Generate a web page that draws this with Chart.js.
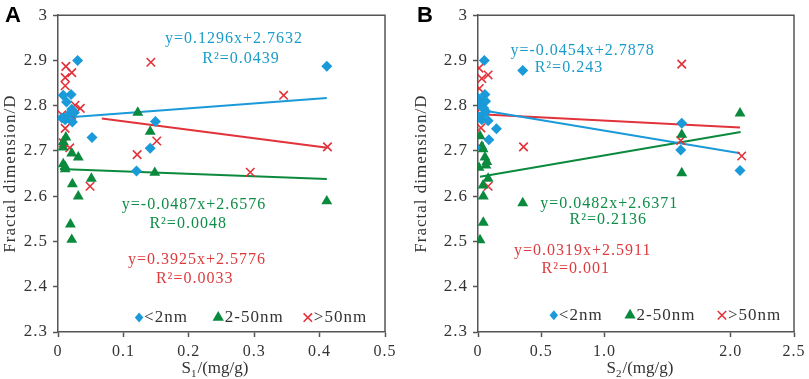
<!DOCTYPE html>
<html>
<head>
<meta charset="utf-8">
<script src="https://cdn.jsdelivr.net/npm/chart.js@4/dist/chart.umd.min.js"></script>
<style>
  body { margin: 0; background: #fff; }
  .panel { position: absolute; top: 0; }
</style>
</head>
<body>
<div class="panel" style="left:0"><canvas id="chartA" width="400" height="379"></canvas></div>
<div class="panel" style="left:400px"><canvas id="chartB" width="409" height="379"></canvas></div>
<script>
// panel A : S1
const blueAx = [0.030, 0.008, 0.020, 0.013, 0.006, 0.011, 0.022, 0.021, 0.016, 0.025, 0.052, 0.120, 0.141, 0.149, 0.411];
const blueAy = [2.900, 2.823, 2.825, 2.808, 2.773, 2.769, 2.764, 2.792, 2.780, 2.785, 2.730, 2.656, 2.706, 2.765, 2.887];
const greenAx = [0.122, 0.141, 0.148, 0.012, 0.008, 0.008, 0.021, 0.031, 0.008, 0.011, 0.011, 0.051, 0.022, 0.031, 0.019, 0.021, 0.411];
const greenAy = [2.785, 2.743, 2.652, 2.730, 2.720, 2.708, 2.695, 2.686, 2.671, 2.665, 2.660, 2.639, 2.627, 2.600, 2.538, 2.504, 2.589];
const redAx = [0.012, 0.021, 0.011, 0.011, 0.142, 0.026, 0.034, 0.021, 0.006, 0.011, 0.008, 0.018, 0.049, 0.121, 0.151, 0.345, 0.294, 0.412];
const redAy = [2.887, 2.873, 2.862, 2.844, 2.896, 2.801, 2.794, 2.779, 2.780, 2.750, 2.718, 2.707, 2.622, 2.692, 2.722, 2.823, 2.653, 2.709];
const fitBlueA = [[0.003, 2.773], [0.411, 2.817]];
const fitRedA = [[0.067, 2.772], [0.412, 2.707]];
const fitGreenA = [[0.003, 2.660], [0.411, 2.638]];

// panel B : S2
const blueBx = [0.050, 0.003, 0.055, 0.020, 0.030, 0.040, 0.010, 0.045, 0.060, 0.063, 0.080, 0.146, 0.086, -0.020, 0.354, 1.612, 1.604, 2.073];
const blueBy = [2.900, 2.816, 2.825, 2.800, 2.769, 2.780, 2.775, 2.795, 2.810, 2.787, 2.767, 2.749, 2.725, 2.708, 2.878, 2.761, 2.702, 2.657];
const greenBx = [0.016, 0.030, 0.040, 0.055, 0.070, 0.063, 0.008, 0.080, 0.040, 0.042, 0.042, 0.016, 0.354, 1.612, 1.612, 2.073];
const greenBy = [2.733, 2.710, 2.704, 2.686, 2.676, 2.668, 2.663, 2.639, 2.624, 2.600, 2.542, 2.503, 2.585, 2.736, 2.651, 2.783];
const redBx = [0.008, 0.080, 0.030, 0.010, 0.023, 0.030, 0.080, 0.010, 0.360, 1.612, 1.604, 2.086];
const redBy = [2.883, 2.868, 2.860, 2.838, 2.751, 2.797, 2.622, 2.710, 2.709, 2.892, 2.723, 2.689];
const fitBlueB = [[0.080, 2.788], [2.073, 2.695]];
const fitRedB = [[0.016, 2.781], [2.073, 2.752]];
const fitGreenB = [[0.016, 2.643], [2.078, 2.742]];

const yTicks = [2.3, 2.4, 2.5, 2.6, 2.7, 2.8, 2.9, 3];
const xTicksA = [0, 0.1, 0.2, 0.3, 0.4, 0.5];
const xTicksB = [0, 0.5, 1, 2, 2.5];
const seriesNames = ['<2nm', '2-50nm', '>50nm'];

const BLUE = '#1a9ad8', GREEN = '#0b8a3e', RED = '#e2323a';
const TXT_BLUE = '#1b9bc9', TXT_GREEN = '#0f8d48', TXT_RED = '#de3b3f';
const AXIS = '#555';
const SERIF = '"Liberation Serif", "Times New Roman", serif';

const pts = (xs, ys) => xs.map((x, i) => ({x: x, y: ys[i]}));
const line = p => p.map(q => ({x: q[0], y: q[1]}));

function markerPath(ctx, style, x, y, r) {
  ctx.beginPath();
  if (style === 'rectRot') {
    ctx.moveTo(x, y - r); ctx.lineTo(x + r * 0.85, y); ctx.lineTo(x, y + r); ctx.lineTo(x - r * 0.85, y); ctx.closePath();
    ctx.fill();
  } else if (style === 'triangle') {
    ctx.moveTo(x, y - r); ctx.lineTo(x + r * 0.87, y + r * 0.5); ctx.lineTo(x - r * 0.87, y + r * 0.5); ctx.closePath();
    ctx.fill();
  } else {
    const d = r * 0.7;
    ctx.moveTo(x - d, y - d); ctx.lineTo(x + d, y + d); ctx.moveTo(x + d, y - d); ctx.lineTo(x - d, y + d);
    ctx.stroke();
  }
}

const extras = {
  id: 'extras',
  beforeDraw(chart) { chart.ctx.letterSpacing = '1px'; },
  afterDraw(chart, args, opts) {
    const {ctx, chartArea: a} = chart;
    const sx = chart.scales.x, sy = chart.scales.y;
    ctx.save();
    ctx.letterSpacing = '0px';
    ctx.strokeStyle = AXIS; ctx.lineWidth = 1.5;
    ctx.beginPath(); ctx.moveTo(a.left, a.top); ctx.lineTo(a.right, a.top); ctx.lineTo(a.right, a.bottom); ctx.stroke();

    ctx.fillStyle = '#000';
    ctx.font = 'bold 22px "Liberation Sans", Arial, sans-serif';
    ctx.textAlign = 'left'; ctx.textBaseline = 'middle';
    ctx.fillText(opts.letter, opts.letterX, 16);

    // x axis title with a real subscript
    ctx.fillStyle = '#333';
    const big = '17px ' + SERIF, small = '11px ' + SERIF;
    ctx.font = big; const wS = ctx.measureText('S').width, wR = ctx.measureText(opts.xTitle[1]).width;
    ctx.font = small; const wSub = ctx.measureText(opts.xTitle[0]).width;
    let tx = opts.titleX - (wS + wSub + 1 + wR) / 2;
    ctx.textAlign = 'left';
    ctx.font = big; ctx.fillText('S', tx, opts.titleY);
    ctx.font = small; ctx.fillText(opts.xTitle[0], tx + wS, opts.titleY + 5);
    ctx.font = big; ctx.fillText(opts.xTitle[1], tx + wS + wSub + 1, opts.titleY);

    ctx.letterSpacing = '1px';
    ctx.font = '16px ' + SERIF;
    ctx.textAlign = 'center';
    opts.notes.forEach(n => {
      ctx.fillStyle = n.color;
      ctx.fillText(n.text, sx.getPixelForValue(n.x), sy.getPixelForValue(n.y));
    });

    ctx.textAlign = 'left';
    opts.legend.forEach((l, i) => {
      const ds = chart.data.datasets[i];
      const px = sx.getPixelForValue(l.x), py = sy.getPixelForValue(l.y);
      ctx.fillStyle = ds.backgroundColor; ctx.strokeStyle = ds.borderColor; ctx.lineWidth = 1.6;
      markerPath(ctx, ds.pointStyle, px, py, l.r);
      ctx.fillStyle = '#333';
      ctx.font = '17px ' + SERIF;
      ctx.fillText(ds.label, px + l.r, py);
    });
    ctx.restore();
  }
};

function makeChart(id, o) {
  const scatter = (label, data, color, style, r) => ({
    label: label, data: data, pointStyle: style, pointRadius: r, pointHoverRadius: r,
    backgroundColor: color, borderColor: color, borderWidth: style === 'crossRot' ? 1.6 : 0, showLine: false
  });
  const fit = (data, color) => ({
    label: '', data: data, showLine: true, pointRadius: 0, borderColor: color, borderWidth: 2, fill: false
  });
  return new Chart(document.getElementById(id), {
    type: 'scatter',
    data: {
      datasets: [
        scatter(seriesNames[0], o.blue, BLUE, 'rectRot', 5.5),
        scatter(seriesNames[1], o.green, GREEN, 'triangle', 6.3),
        scatter(seriesNames[2], o.red, RED, 'crossRot', 6),
        fit(o.fitBlue, BLUE),
        fit(o.fitRed, RED),
        fit(o.fitGreen, GREEN)
      ]
    },
    options: {
      responsive: false,
      animation: false,
      layout: {padding: {top: 8, right: o.padRight, left: 0, bottom: 0}},
      plugins: {
        legend: {display: false},
        tooltip: {enabled: false},
        extras: {letter: o.letter, letterX: o.letterX, notes: o.notes, legend: o.legend,
                 xTitle: o.xTitle, titleX: o.titleX, titleY: 369}
      },
      scales: {
        x: {
          type: 'linear', min: 0, max: o.xMax,
          afterFit: s => { s.height = 47; },
          afterBuildTicks: s => { s.ticks = o.xTicks.map(v => ({value: v})); },
          grid: {drawOnChartArea: false, drawTicks: true, tickLength: 5, color: AXIS, tickWidth: 1.5},
          border: {color: AXIS, width: 1.5},
          ticks: {color: '#333', font: {family: SERIF, size: 16}, padding: 5, maxRotation: 0, autoSkip: false}
        },
        y: {
          type: 'linear', min: 2.3, max: 3,
          afterFit: s => { s.width = o.yWidth; },
          afterBuildTicks: s => { s.ticks = yTicks.map(v => ({value: v})); },
          grid: {drawOnChartArea: false, drawTicks: true, tickLength: 5, color: AXIS, tickWidth: 1.5},
          border: {color: AXIS, width: 1.5},
          ticks: {color: '#333', font: {family: SERIF, size: 17}, padding: 5,
                  callback: v => String(Math.round(v * 10) / 10)},
          title: {display: true, text: 'Fractal dimension/D', color: '#333', font: {family: SERIF, size: 17},
                  padding: {top: o.yTitlePad, bottom: 0}}
        }
      }
    },
    plugins: [extras]
  });
}

makeChart('chartA', {
  letter: 'A', letterX: 5, padRight: 15, yWidth: 58, yTitlePad: 0, xMax: 0.5, xTicks: xTicksA,
  xTitle: ['1', '/(mg/g)'], titleX: 215,
  blue: pts(blueAx, blueAy), green: pts(greenAx, greenAy), red: pts(redAx, redAy),
  fitBlue: line(fitBlueA), fitRed: line(fitRedA), fitGreen: line(fitGreenA),
  notes: [
    {text: 'y=0.1296x+2.7632', x: 0.269, y: 2.948, color: TXT_BLUE},
    {text: 'R²=0.0439', x: 0.280, y: 2.903, color: TXT_BLUE},
    {text: 'y=-0.0487x+2.6576', x: 0.208, y: 2.581, color: TXT_GREEN},
    {text: 'R²=0.0048', x: 0.199, y: 2.538, color: TXT_GREEN},
    {text: 'y=0.3925x+2.5776', x: 0.2125, y: 2.460, color: TXT_RED},
    {text: 'R²=0.0033', x: 0.209, y: 2.417, color: TXT_RED}
  ],
  legend: [{x: 0.124, y: 2.332, r: 5}, {x: 0.245, y: 2.332, r: 6.5}, {x: 0.382, y: 2.332, r: 6}]
});

makeChart('chartB', {
  letter: 'B', letterX: 17, padRight: 11, yWidth: 78, yTitlePad: 11, xMax: 2.5, xTicks: xTicksB,
  xTitle: ['2', '/(mg/g)'], titleX: 240,
  blue: pts(blueBx, blueBy), green: pts(greenBx, greenBy), red: pts(redBx, redBy),
  fitBlue: line(fitBlueB), fitRed: line(fitRedB), fitGreen: line(fitGreenB),
  notes: [
    {text: 'y=-0.0454x+2.7878', x: 0.828, y: 2.922, color: TXT_BLUE},
    {text: 'R²=0.243', x: 0.719, y: 2.883, color: TXT_BLUE},
    {text: 'y=0.0482x+2.6371', x: 1.039, y: 2.583, color: TXT_GREEN},
    {text: 'R²=0.2136', x: 1.031, y: 2.547, color: TXT_GREEN},
    {text: 'y=0.0319x+2.5911', x: 0.828, y: 2.479, color: TXT_RED},
    {text: 'R²=0.001', x: 0.773, y: 2.439, color: TXT_RED}
  ],
  legend: [{x: 0.60, y: 2.337, r: 5}, {x: 1.203, y: 2.337, r: 6.5}, {x: 1.93, y: 2.337, r: 6}]
});
</script>
</body>
</html>
